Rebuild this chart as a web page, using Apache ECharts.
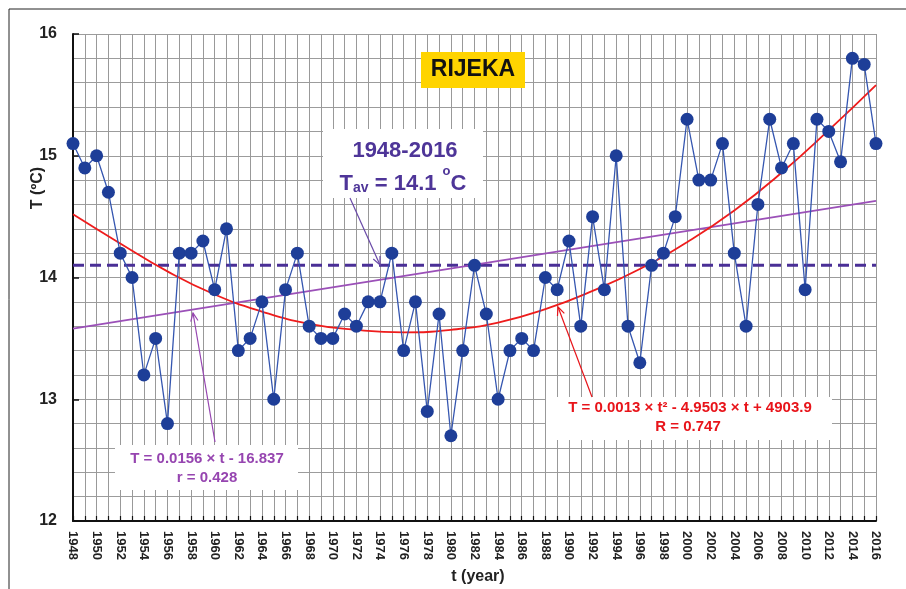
<!DOCTYPE html>
<html>
<head>
<meta charset="utf-8">
<script src="https://cdn.jsdelivr.net/npm/echarts@6/dist/echarts.min.js"></script>
<style>
html,body{margin:0;padding:0;background:#fff;}
#chart{width:906px;height:589px;}
</style>
</head>
<body>
<div id="chart"></div>
<script>
// ---- data ----
var years = [1948,1949,1950,1951,1952,1953,1954,1955,1956,1957,1958,1959,1960,1961,1962,1963,1964,1965,1966,1967,1968,1969,1970,1971,1972,1973,1974,1975,1976,1977,1978,1979,1980,1981,1982,1983,1984,1985,1986,1987,1988,1989,1990,1991,1992,1993,1994,1995,1996,1997,1998,1999,2000,2001,2002,2003,2004,2005,2006,2007,2008,2009,2010,2011,2012,2013,2014,2015,2016];
var temps = [15.1,14.9,15.0,14.7,14.2,14.0,13.2,13.5,12.8,14.2,14.2,14.3,13.9,14.4,13.4,13.5,13.8,13.0,13.9,14.2,13.6,13.5,13.5,13.7,13.6,13.8,13.8,14.2,13.4,13.8,12.9,13.7,12.7,13.4,14.1,13.7,13.0,13.4,13.5,13.4,14.0,13.9,14.3,13.6,14.5,13.9,15.0,13.6,13.3,14.1,14.2,14.5,15.3,14.8,14.8,15.1,14.2,13.6,14.6,15.3,14.9,15.1,13.9,15.3,15.2,14.95,15.8,15.75,15.1];
var avgYears = [1948, 2016];
var avgValues = [14.1, 14.1];
var linYears = [1948, 2016];
var linValues = [13.58, 14.63];
var quadYears = [1948,1952,1956,1960,1964,1968,1972,1976,1980,1984,1988,1992,1996,2000,2004,2008,2012,2016];
var quadValues = [14.52,14.28,14.05,13.86,13.72,13.62,13.57,13.55,13.57,13.63,13.74,13.89,14.07,14.29,14.55,14.86,15.21,15.58];
var yTicks = [12,13,14,15,16];

function pairs(xs, ys){ return xs.map(function(x,i){ return [x, ys[i]]; }); }

var FONT = '"Liberation Sans", Arial, sans-serif';

function arrow(x1,y1,x2,y2,color){
  var dx=x2-x1, dy=y2-y1, L=Math.sqrt(dx*dx+dy*dy), ux=dx/L, uy=dy/L;
  var hl=9, a=0.42;
  var c=Math.cos(a), s=Math.sin(a);
  var bx1 = x2 - hl*(ux*c - uy*s), by1 = y2 - hl*(uy*c + ux*s);
  var bx2 = x2 - hl*(ux*c + uy*s), by2 = y2 - hl*(uy*c - ux*s);
  return [
    {type:'line', z:5, shape:{x1:x1,y1:y1,x2:x2,y2:y2}, style:{stroke:color, lineWidth:1.2}},
    {type:'polyline', z:5, shape:{points:[[bx1,by1],[x2,y2],[bx2,by2]]}, style:{stroke:color, lineWidth:1.2, fill:null}}
  ];
}

var chart = echarts.init(document.getElementById('chart'));
var graphics = [
  {type:'rect', z:0, silent:true, shape:{x:9,y:9,width:1200,height:1200}, style:{fill:null, stroke:'#222', lineWidth:1}},
  // RIJEKA
  {type:'rect', z:1, shape:{x:421,y:52,width:104,height:36}, style:{fill:'#ffd400'}},
  {type:'text', z:6, x:473, y:70, style:{text:'RIJEKA', font:'bold 23px '+FONT, fill:'#111', align:'center', verticalAlign:'middle'}},
  // average box
  {type:'rect', z:1, shape:{x:323,y:129,width:160,height:69}, style:{fill:'#fff'}},
  {type:'text', z:6, x:405, y:151, style:{text:'1948-2016', font:'bold 22px '+FONT, fill:'#4e3598', align:'center', verticalAlign:'middle'}},
  {type:'text', z:6, x:403, y:180, style:{
    text:'{a|T}{s|av}{a| = 14.1 }{o|o}{a|C}', align:'center', verticalAlign:'middle',
    rich:{
      a:{font:'bold 22px '+FONT, fill:'#4e3598', verticalAlign:'bottom', lineHeight:26},
      s:{font:'bold 14px '+FONT, fill:'#4e3598', verticalAlign:'bottom', lineHeight:20},
      o:{font:'bold 13px '+FONT, fill:'#4e3598', verticalAlign:'top', lineHeight:30}
    }}},
  // linear box
  {type:'rect', z:1, shape:{x:115,y:445,width:183,height:45}, style:{fill:'#fff'}},
  {type:'text', z:6, x:207, y:459, style:{text:'T = 0.0156 \u00d7 t - 16.837', font:'bold 15px '+FONT, fill:'#9645b0', align:'center', verticalAlign:'middle'}},
  {type:'text', z:6, x:207, y:478, style:{text:'r = 0.428', font:'bold 15px '+FONT, fill:'#9645b0', align:'center', verticalAlign:'middle'}},
  // quadratic box
  {type:'rect', z:1, shape:{x:546,y:397,width:286,height:43}, style:{fill:'#fff'}},
  {type:'text', z:6, x:690, y:408, style:{text:'T = 0.0013 \u00d7 t\u00b2 - 4.9503 \u00d7 t + 4903.9', font:'bold 15px '+FONT, fill:'#e8141a', align:'center', verticalAlign:'middle'}},
  {type:'text', z:6, x:688, y:427, style:{text:'R = 0.747', font:'bold 15px '+FONT, fill:'#e8141a', align:'center', verticalAlign:'middle'}},
  // axis titles
  {type:'text', z:6, x:38, y:188, rotation:Math.PI/2, style:{text:'T (\u00baC)', font:'bold 16px '+FONT, fill:'#222', align:'center', verticalAlign:'middle'}},
  {type:'text', z:6, x:478, y:577, style:{text:'t (year)', font:'bold 16px '+FONT, fill:'#222', align:'center', verticalAlign:'middle'}}
];
graphics = graphics.concat(arrow(350,198,380,265,'#6a4aa8'));
graphics = graphics.concat(arrow(215,442,193,313,'#9645b0'));
graphics = graphics.concat(arrow(592,397,558,307,'#e8141a'));

var option = {
  animation:false,
  backgroundColor:'#fff',
  grid:{left:73, right:30, top:34, bottom:68, containLabel:false},
  xAxis:{
    type:'value', min:1948, max:2016, interval:2,
    axisLine:{show:true, onZero:false, lineStyle:{color:'#111', width:2}},
    axisTick:{show:true, inside:true, length:5, lineStyle:{color:'#111', width:1.2}},
    minorTick:{show:true, splitNumber:2, length:5, lineStyle:{color:'#111', width:1.2}},
    splitLine:{show:true, lineStyle:{color:'#999', width:1}},
    minorSplitLine:{show:true, lineStyle:{color:'#999', width:1}},
    axisLabel:{rotate:-90, margin:10, color:'#222', fontFamily:FONT, fontWeight:'bold', fontSize:13,
      formatter:function(v){ return String(v); }}
  },
  yAxis:{
    type:'value', min:12, max:16, interval:1,
    axisLine:{show:true, onZero:false, lineStyle:{color:'#111', width:2}},
    axisTick:{show:true, inside:true, length:6, lineStyle:{color:'#111', width:1.5}},
    splitLine:{show:true, lineStyle:{color:'#9c9c9c', width:1}},
    minorTick:{show:false, splitNumber:5},
    minorSplitLine:{show:true, lineStyle:{color:'#9c9c9c', width:1}},
    axisLabel:{margin:16, color:'#222', fontFamily:FONT, fontWeight:'bold', fontSize:16,
      formatter:function(v){ return yTicks.indexOf(v) >= 0 ? String(v) : ''; }}
  },
  graphic:{elements:graphics},
  series:[
    {type:'line', name:'avg', data:pairs(avgYears, avgValues), symbol:'none', z:3,
      lineStyle:{color:'#4a2f96', width:3, type:[11,6]}},
    {type:'line', name:'linear', data:pairs(linYears, linValues), symbol:'none', z:3,
      lineStyle:{color:'#9b50b8', width:1.8}},
    {type:'line', name:'quad', data:pairs(quadYears, quadValues), symbol:'none', smooth:true, z:3,
      lineStyle:{color:'#ee1c1c', width:1.8}},
    {type:'line', name:'T', data:pairs(years, temps), symbol:'circle', symbolSize:13, z:4,
      lineStyle:{color:'#3556b0', width:1.3},
      itemStyle:{color:'#1e3e98', borderWidth:0}}
  ]
};
chart.setOption(option);
</script>
</body>
</html>
